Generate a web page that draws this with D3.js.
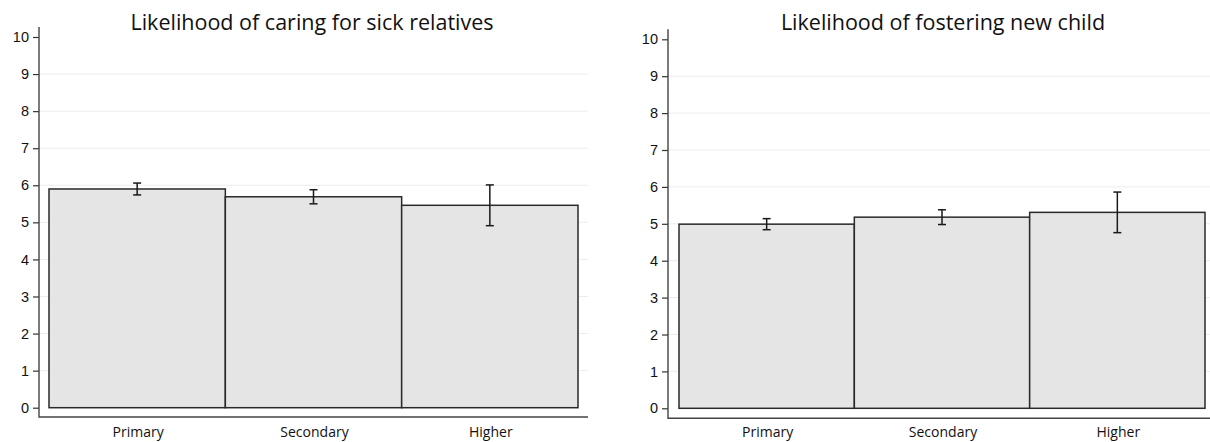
<!DOCTYPE html>
<html>
<head>
<meta charset="utf-8">
<script src="https://cdn.jsdelivr.net/npm/d3@7"></script>
<style>
  html, body { margin: 0; padding: 0; background: #fff; }
  svg { display: block; }
</style>
</head>
<body>
<div id="app"></div>
<script>
const categories = ['Primary', 'Secondary', 'Higher']
const yTicks = [0, 1, 2, 3, 4, 5, 6, 7, 8, 9, 10]

const caringTitle = 'Likelihood of caring for sick relatives'
const caringMeans = [5.90, 5.69, 5.46]
const caringErr = [0.16, 0.19, 0.55]

const fosterTitle = 'Likelihood of fostering new child'
const fosterMeans = [4.99, 5.18, 5.31]
const fosterErr = [0.15, 0.20, 0.55]

const size = { width: 1210, height: 442 }

const svg = d3.select('#app')
  .append('svg')
  .attr('width', size.width)
  .attr('height', size.height)

// one panel = one bar chart with its own scales
function drawPanel(p) {
  const g = svg.append('g')

  const y = d3.scaleLinear().domain([0, 10]).range([p.y0, p.y10])
  const x = d3.scaleBand().domain(categories).range([p.barLeft, p.barRight]).padding(0)

  // gridlines
  g.append('g')
    .selectAll('line')
    .data(yTicks.filter(d => d > 0 && d < 10))
    .enter()
    .append('line')
    .attr('x1', p.axisX)
    .attr('x2', p.gridRight)
    .attr('y1', d => y(d))
    .attr('y2', d => y(d))
    .attr('stroke', '#ececec')
    .attr('stroke-width', 1)

  // y axis ticks and labels
  const ax = g.append('g')
    .attr('transform', `translate(${p.axisX},0)`)
    .call(d3.axisLeft(y).tickValues(yTicks).tickSize(6).tickPadding(4).tickFormat(d3.format('d')))
  ax.select('.domain').remove()
  ax.selectAll('.tick line').attr('stroke', '#333').attr('stroke-width', 1.2)
  ax.selectAll('.tick text')
    .attr('font-family', '"Liberation Sans", Arial, sans-serif')
    .attr('font-size', 14.5)
    .attr('fill', '#111')

  // L-shaped axis lines
  g.append('path')
    .attr('d', `M${p.axisX},${y(10.27)}V${p.xAxisY}H${p.gridRight}`)
    .attr('fill', 'none')
    .attr('stroke', '#444')
    .attr('stroke-width', 1.4)

  // bars
  g.append('g')
    .selectAll('rect')
    .data(p.means)
    .enter()
    .append('rect')
    .attr('x', (d, i) => x(categories[i]))
    .attr('y', d => y(d))
    .attr('width', x.bandwidth())
    .attr('height', d => y(0) - y(d))
    .attr('fill', '#e5e5e5')
    .attr('stroke', '#2a2a2a')
    .attr('stroke-width', 1.5)

  // error bars
  const eb = g.append('g')
    .selectAll('g')
    .data(p.means)
    .enter()
    .append('g')
    .attr('stroke', '#1a1a1a')
    .attr('stroke-width', 1.5)
  eb.append('line')
    .attr('x1', (d, i) => x(categories[i]) + x.bandwidth() / 2)
    .attr('x2', (d, i) => x(categories[i]) + x.bandwidth() / 2)
    .attr('y1', (d, i) => y(d + p.err[i]))
    .attr('y2', (d, i) => y(d - p.err[i]))
  eb.selectAll('.cap')
    .data((d, i) => [d + p.err[i], d - p.err[i]].map(v => ({ v, i })))
    .enter()
    .append('line')
    .attr('class', 'cap')
    .attr('x1', d => x(categories[d.i]) + x.bandwidth() / 2 - 4)
    .attr('x2', d => x(categories[d.i]) + x.bandwidth() / 2 + 4)
    .attr('y1', d => y(d.v))
    .attr('y2', d => y(d.v))

  // category labels
  g.append('g')
    .selectAll('text')
    .data(categories)
    .enter()
    .append('text')
    .attr('x', d => x(d) + x.bandwidth() / 2 + 1)
    .attr('y', 437)
    .attr('text-anchor', 'middle')
    .attr('font-family', '"Open Sans", sans-serif')
    .attr('font-size', 14)
    .attr('fill', '#111')
    .text(d => d)

  g.append('text')
    .attr('x', p.titleX)
    .attr('y', 30)
    .attr('text-anchor', 'middle')
    .attr('font-family', '"Open Sans", sans-serif')
    .attr('font-size', 21.5)
    .attr('fill', '#111')
    .text(p.title)
}

drawPanel({
  title: caringTitle, means: caringMeans, err: caringErr,
  axisX: 39, barLeft: 49, barRight: 578, gridRight: 588, xAxisY: 417,
  y0: 407.7, y10: 37, titleX: 312
})

drawPanel({
  title: fosterTitle, means: fosterMeans, err: fosterErr,
  axisX: 668, barLeft: 679, barRight: 1205, gridRight: 1210, xAxisY: 418.3,
  y0: 408.3, y10: 39.3, titleX: 943
})
</script>
</body>
</html>
